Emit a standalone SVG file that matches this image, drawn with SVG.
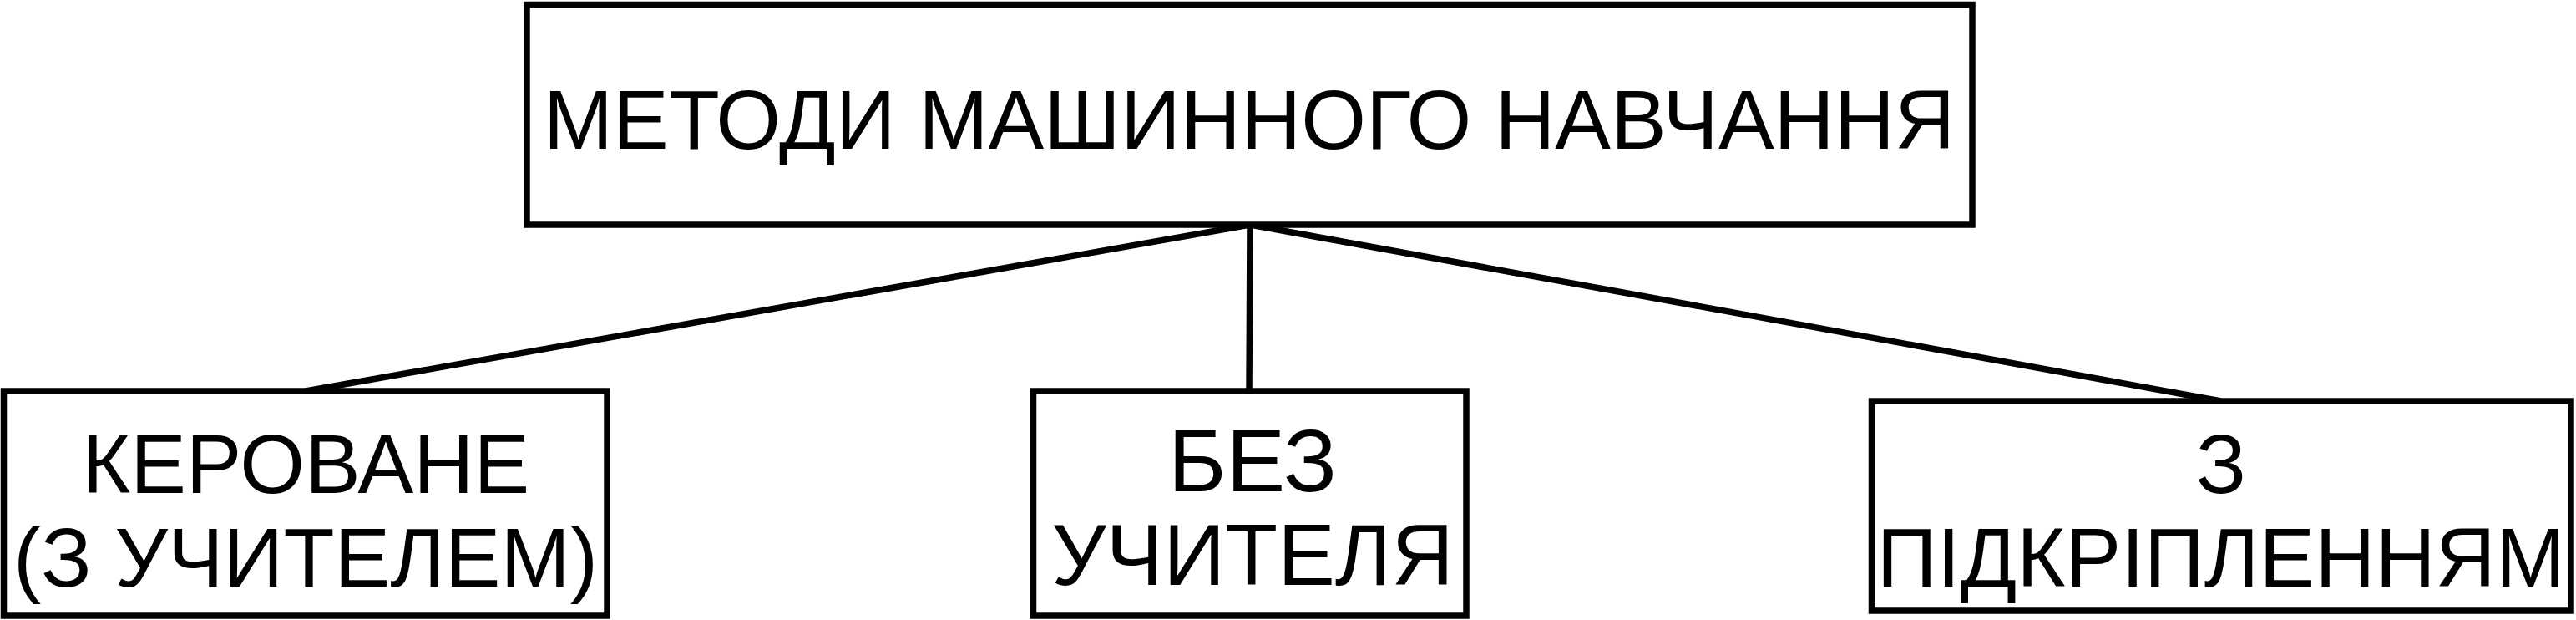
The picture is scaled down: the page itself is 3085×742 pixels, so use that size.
<svg xmlns="http://www.w3.org/2000/svg" width="3085" height="742" viewBox="0 0 3085 742">
<style>
.box{fill:#fff;stroke:#000;stroke-width:7.5}
.lbl{font-family:"Liberation Sans",Arial,sans-serif;font-size:100px;fill:#000;text-anchor:middle}
.edge{stroke:#000;stroke-width:7.5;fill:none}
</style>
<rect width="3085" height="742" fill="#fff"/>
<g id="connectors">
<line class="edge" x1="1497" y1="269" x2="366" y2="468"/>
<line class="edge" x1="1497" y1="269" x2="1496" y2="468"/>
<line class="edge" x1="1497" y1="269" x2="2660" y2="480"/>
</g>
<g id="node-root">
<rect class="box" x="631" y="5.5" width="1731" height="263.5"/>
<text class="lbl" x="1496" y="178">МЕТОДИ МАШИННОГО НАВЧАННЯ</text>
</g>
<g id="node-supervised">
<rect class="box" x="4.5" y="468" width="722.5" height="269"/>
<text class="lbl" x="366" y="590">КЕРОВАНЕ</text>
<text class="lbl" x="366" y="701.5">(З УЧИТЕЛЕМ)</text>
</g>
<g id="node-unsupervised">
<rect class="box" x="1237.5" y="468" width="518.5" height="269"/>
<text class="lbl" x="1500" y="588" style="font-size:106px">БЕЗ</text>
<text class="lbl" x="1500" y="700" style="font-size:103px">УЧИТЕЛЯ</text>
</g>
<g id="node-reinforcement">
<rect class="box" x="2241.5" y="480" width="837.5" height="251"/>
<text class="lbl" x="2660" y="590">З</text>
<text class="lbl" x="2660" y="702">ПІДКРІПЛЕННЯМ</text>
</g>
</svg>
